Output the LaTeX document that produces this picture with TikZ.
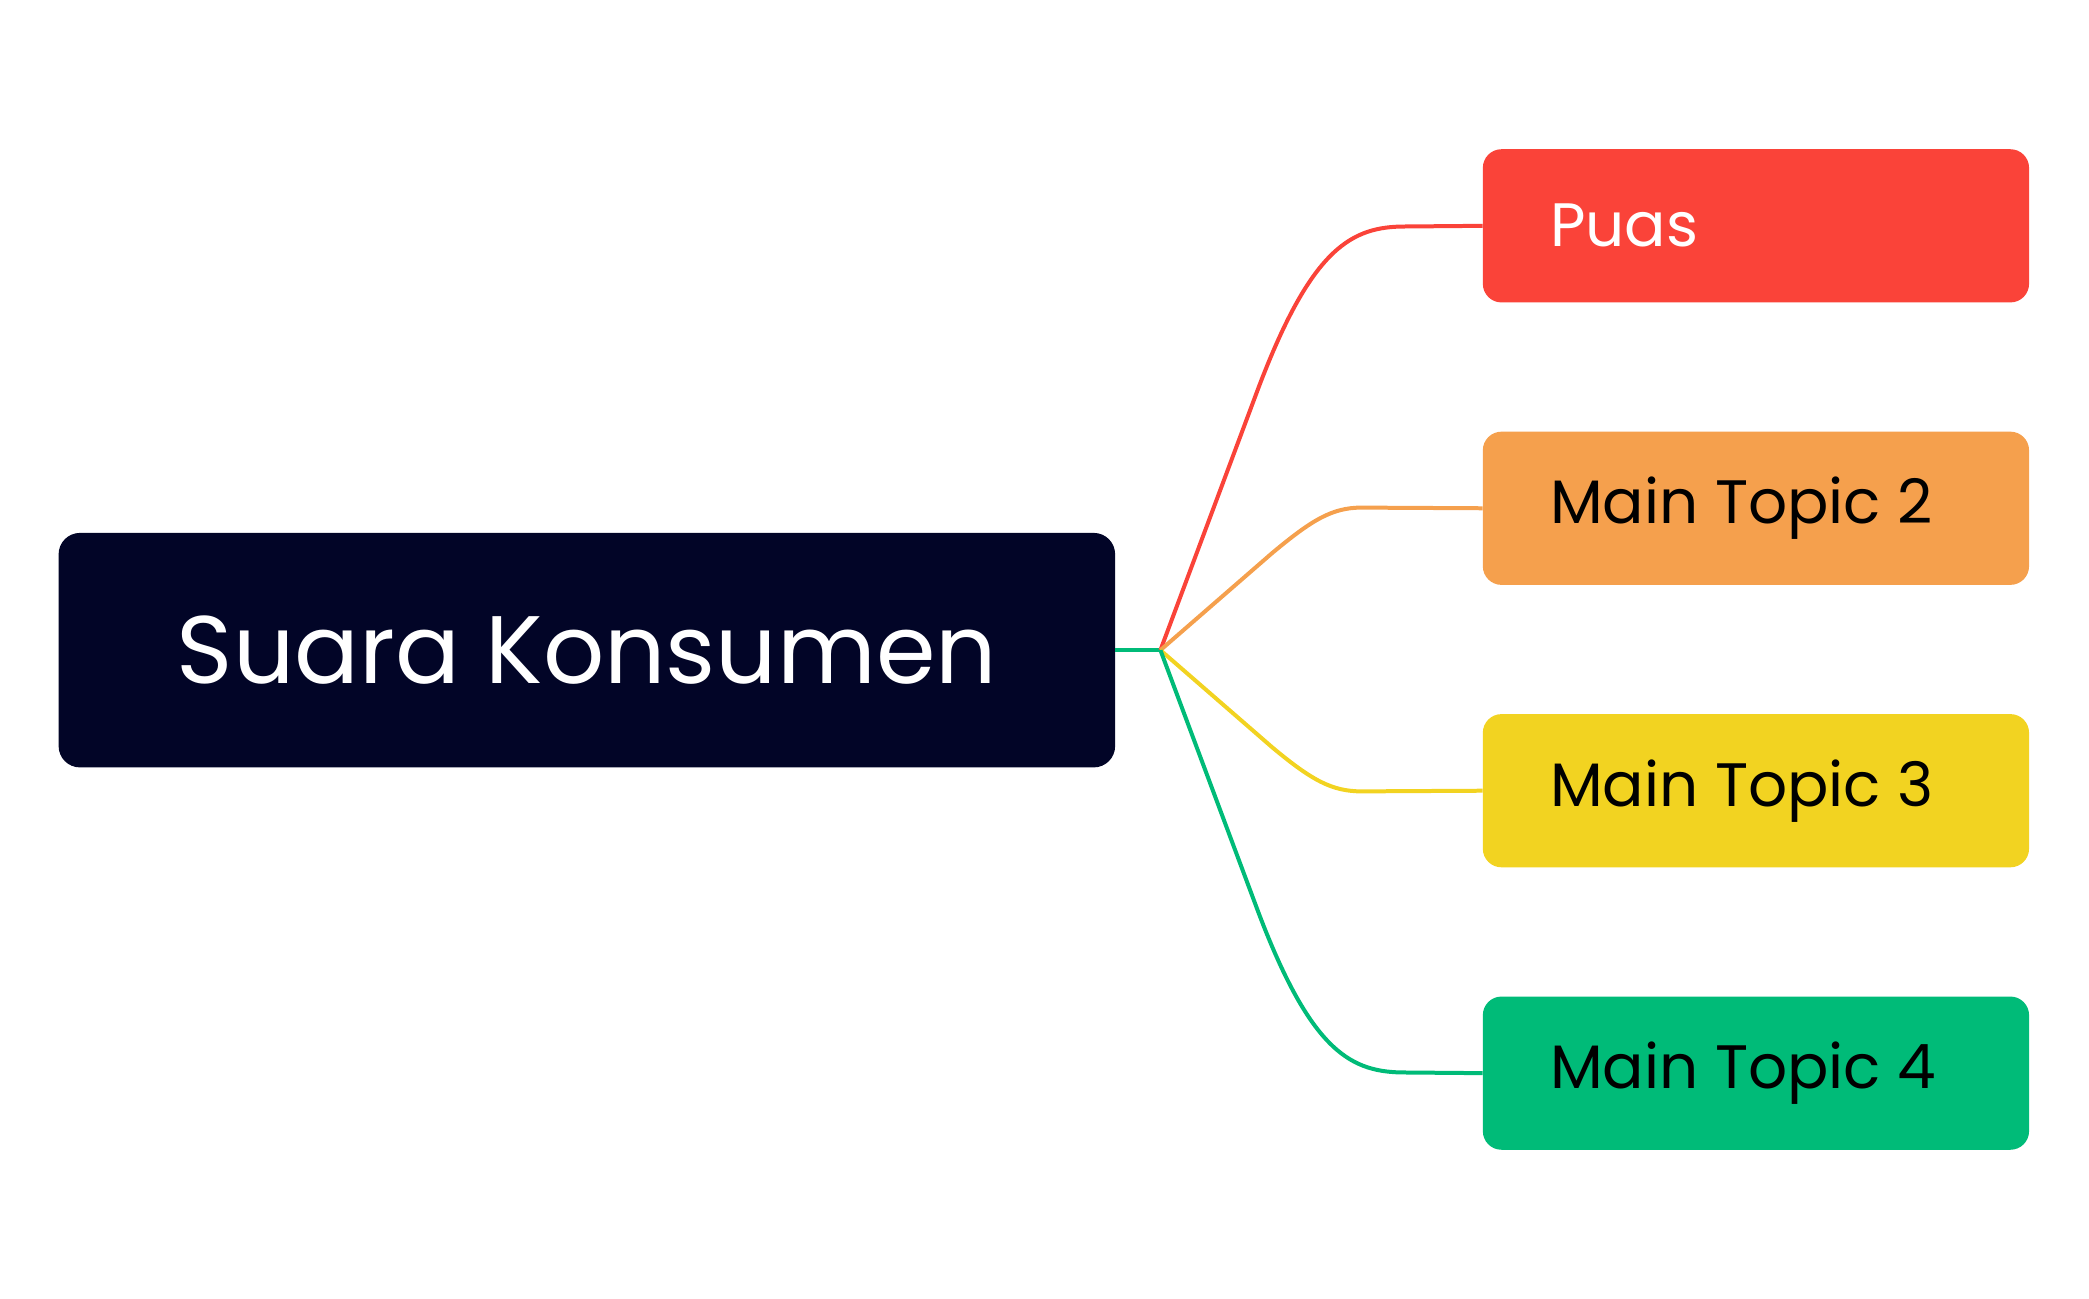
\documentclass[tikz,border=0pt]{standalone}
\usepackage{fontspec}
\setmainfont{Poppins}
\definecolor{navy}{HTML}{020527}
\definecolor{cred}{HTML}{FA4339}
\definecolor{corange}{HTML}{F5A04D}
\definecolor{cyellow}{HTML}{F2D321}
\definecolor{cgreen}{HTML}{00BB78}
\begin{document}
\begin{tikzpicture}[x=1pt,y=-1pt,
  topic/.style={rounded corners=14pt,minimum width=410pt,minimum height=115pt,inner sep=0pt},
  conn/.style={line width=3pt}]
\useasboundingbox (0,0) rectangle (1568,975);
\node[fill=navy,rounded corners=16pt,minimum width=793pt,minimum height=176pt,text=white,font=\fontsize{72}{80}\selectfont] (c) at (440.5,488) {Suara Konsumen};
\node[topic,fill=cred] (t1) at (1318,169.5) {};
\node[topic,fill=corange] (t2) at (1318,381.5) {};
\node[topic,fill=cyellow] (t3) at (1318,593.5) {};
\node[topic,fill=cgreen] (t4) at (1318,805.5) {};
\node[anchor=west,text=white,font=\fontsize{46}{50}\selectfont] at (1160,169.5) {Puas};
\node[anchor=west,font=\fontsize{46}{50}\selectfont] at (1160,381.5) {Main Topic 2};
\node[anchor=west,font=\fontsize{46}{50}\selectfont] at (1160,593.5) {Main Topic 3};
\node[anchor=west,font=\fontsize{46}{50}\selectfont] at (1160,805.5) {Main Topic 4};
\coordinate (h) at (871,488);
\draw[conn,cgreen] (c.east) -- (h);
\draw[conn,cred] (h) -- (945,290) .. controls (985,185) and (1015,170) .. (1055,170) -- (t1.west);
\draw[conn,corange] (h) -- (955,415) .. controls (985,390) and (1000,381) .. (1022,381) -- (t2.west);
\draw[conn,cyellow] (h) -- (955,561) .. controls (985,586) and (1000,594) .. (1022,594) -- (t3.west);
\draw[conn,cgreen] (h) -- (945,686) .. controls (985,791) and (1015,805) .. (1055,805) -- (t4.west);
\end{tikzpicture}
\end{document}
